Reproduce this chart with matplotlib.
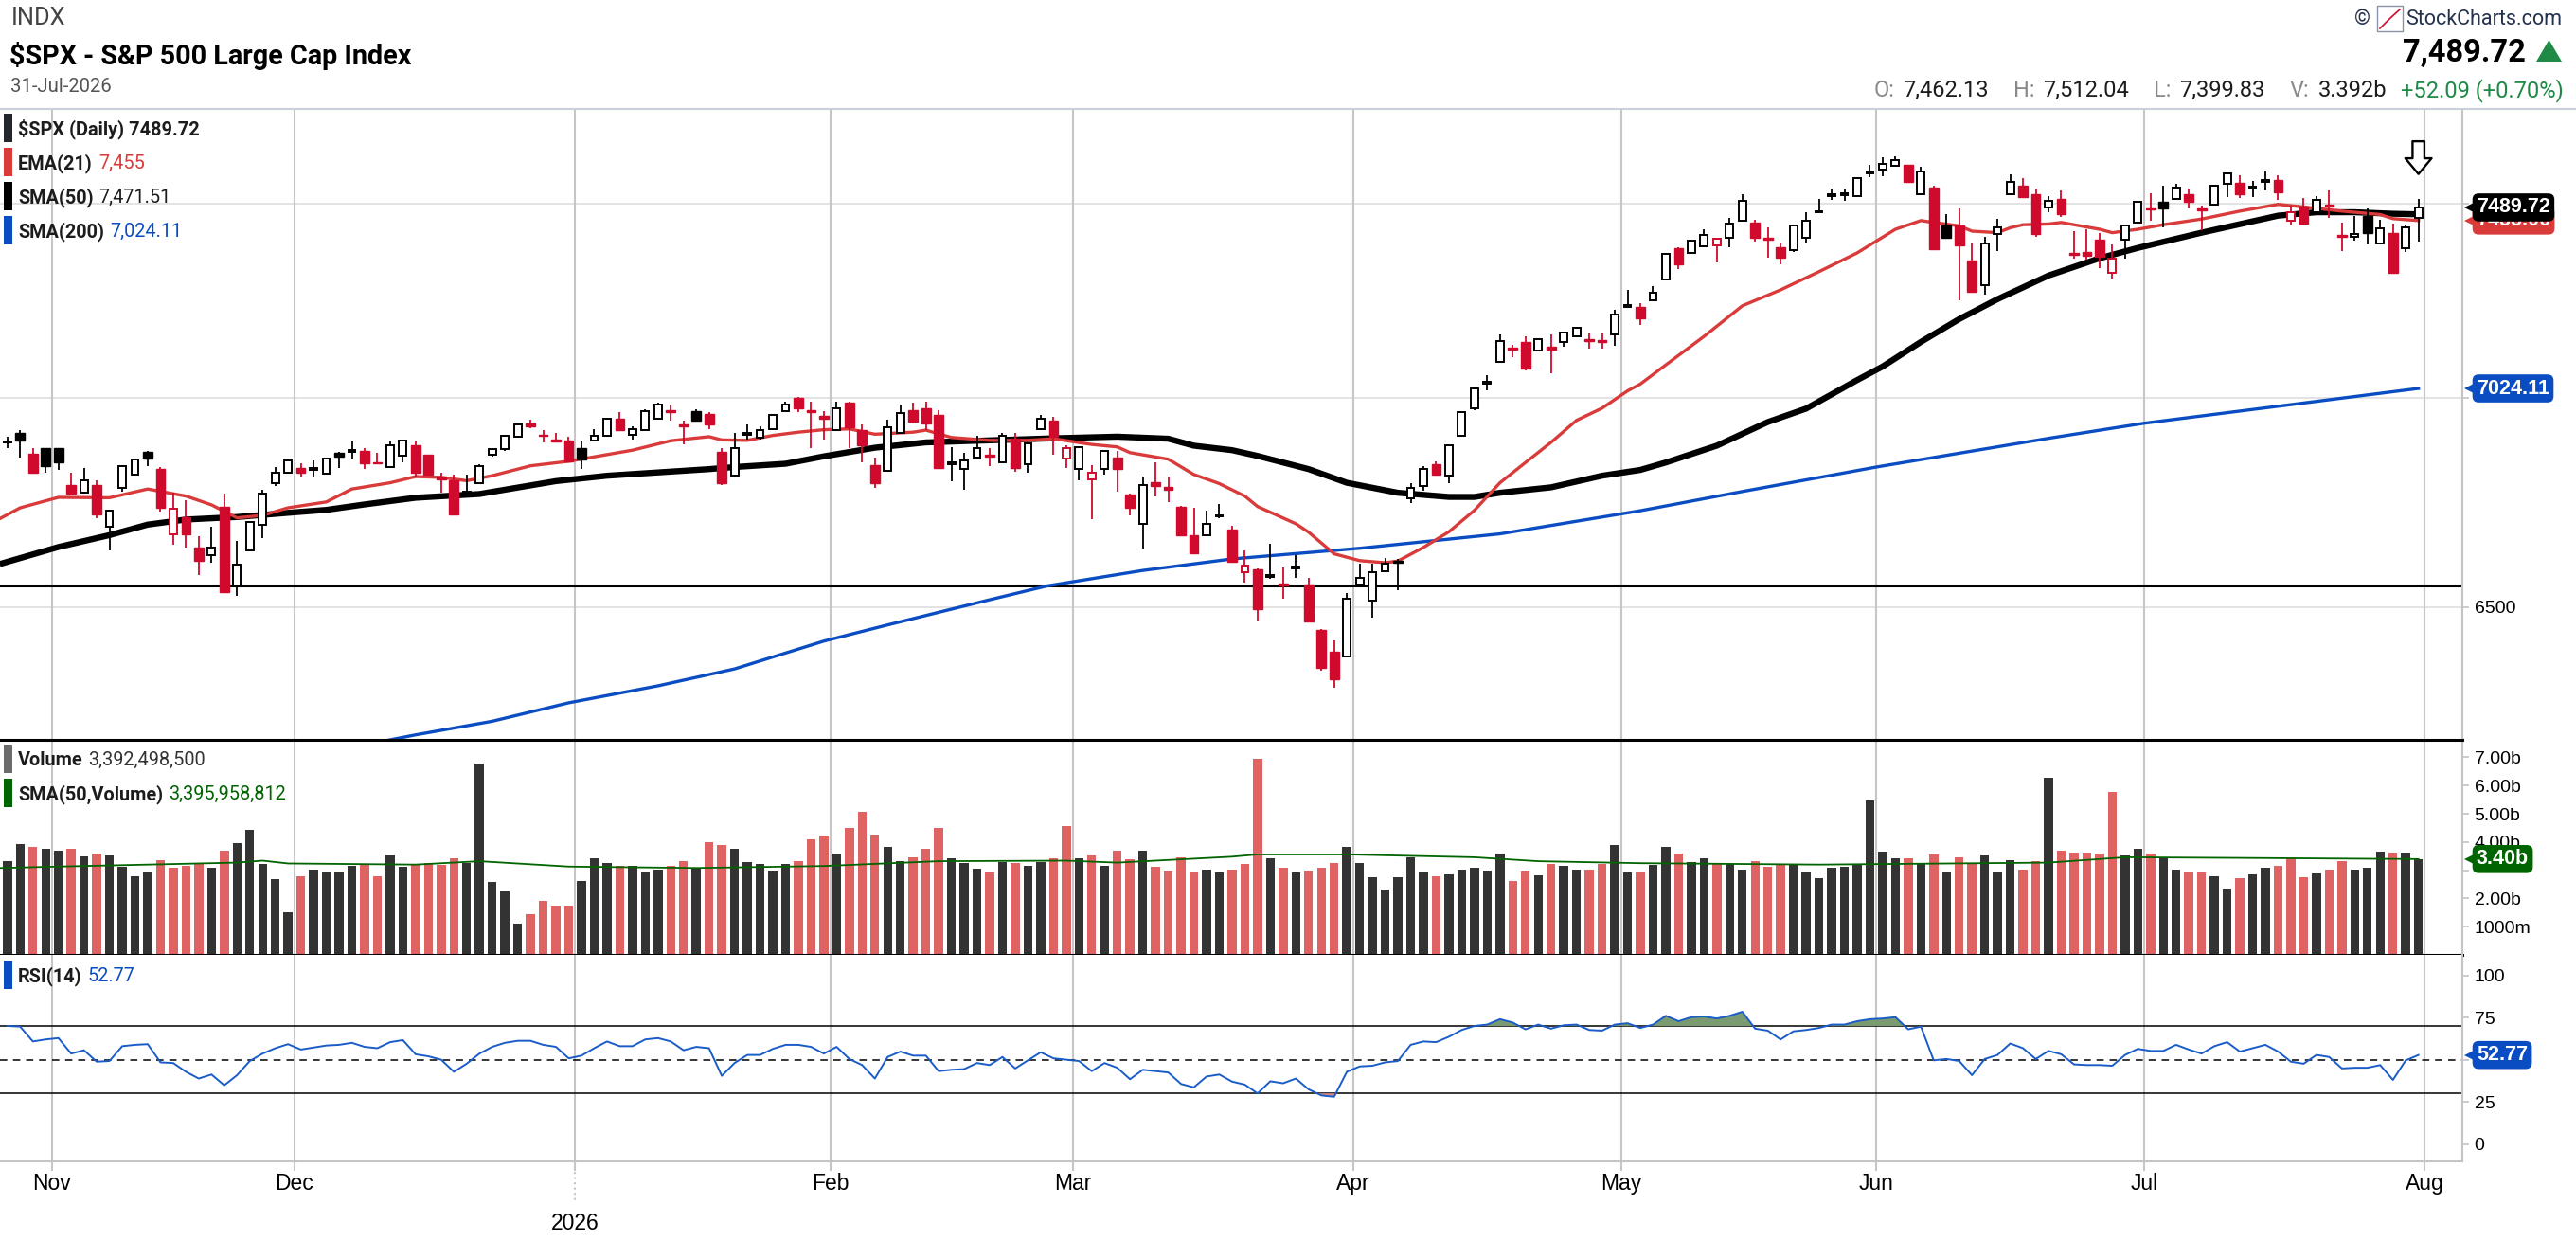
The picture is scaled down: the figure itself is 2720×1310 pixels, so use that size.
import numpy as np
import pandas as pd
import matplotlib
matplotlib.use("Agg")
import matplotlib.pyplot as plt
from matplotlib import transforms
from matplotlib.patches import Rectangle, Polygon
from matplotlib.lines import Line2D
from matplotlib.ticker import NullLocator, FixedLocator, FixedFormatter

W, H = 2720, 1310

# ---------------------------------------------------------------- data
holidays = ["2025-11-27", "2025-12-25", "2026-01-01", "2026-01-19", "2026-02-16",
            "2026-04-03", "2026-05-25", "2026-06-19", "2026-07-03"]
dates = pd.bdate_range("2025-10-28", "2026-07-31")
dates = dates[~dates.isin(pd.to_datetime(holidays))]

prev_close = 6880  # close of the session before the first bar shown

opens = [
    6890, 6913, 6863, 6876, 6876, 6788, 6769, 6788, 6687, 6780,
    6813, 6868, 6826, 6671, 6711, 6639, 6620, 6736, 6549, 6633,
    6692, 6791, 6817, 6828, 6823, 6815, 6866, 6868, 6870, 6843,
    6831, 6858, 6883, 6860, 6807, 6798, 6770, 6793, 6862, 6874,
    6905, 6938, 6910, 6897, 6896, 6878, 6896, 6907, 6948, 6910,
    6922, 6950, 6970, 6935, 6968, 6960, 6868, 6810, 6910, 6903,
    6924, 6968, 7000, 6970, 6955, 6920, 6988, 6922, 6836, 6821,
    6914, 6971, 6975, 6958, 6838, 6826, 6855, 6861, 6843, 6900,
    6838, 6923, 6945, 6852, 6826, 6801, 6826, 6855, 6765, 6695,
    6795, 6782, 6735, 6668, 6668, 6712, 6681, 6580, 6587, 6570,
    6555, 6590, 6552, 6448, 6397, 6388, 6553, 6514, 6583, 6607,
    6756, 6786, 6839, 6810, 6906, 6975, 7035, 7090, 7127, 7141,
    7120, 7128, 7141, 7155, 7149, 7146, 7160, 7230, 7230, 7246,
    7301, 7383, 7369, 7388, 7390, 7410, 7455, 7449, 7410, 7384,
    7377, 7410, 7478, 7520, 7523, 7521, 7580, 7590, 7600, 7603,
    7525, 7543, 7441, 7441, 7351, 7285, 7420, 7525, 7549, 7525,
    7489, 7513, 7370, 7373, 7405, 7317, 7405, 7450, 7488, 7504,
    7513, 7525, 7486, 7498, 7553, 7555, 7540, 7559, 7563, 7455,
    7491, 7477, 7496, 7417, 7412, 7468, 7395, 7422, 7383, 7462.13,
]
highs = [
    6905, 6921, 6878, 6878, 6878, 6817, 6828, 6798, 6728, 6836,
    6852, 6870, 6830, 6769, 6752, 6666, 6687, 6768, 6655, 6702,
    6775, 6830, 6850, 6840, 6848, 6855, 6868, 6894, 6877, 6866,
    6896, 6898, 6896, 6862, 6817, 6812, 6812, 6839, 6876, 6910,
    6937, 6947, 6922, 6913, 6905, 6894, 6924, 6951, 6966, 6930,
    6973, 6990, 6983, 6945, 6973, 6966, 6876, 6913, 6935, 6930,
    6960, 6991, 7002, 6991, 6968, 6991, 6991, 6934, 6855, 6946,
    6983, 6988, 6991, 6971, 6880, 6865, 6907, 6878, 6915, 6915,
    6890, 6958, 6953, 6883, 6882, 6835, 6873, 6871, 6767, 6809,
    6843, 6809, 6737, 6733, 6727, 6743, 6690, 6631, 6589, 6647,
    6592, 6620, 6568, 6450, 6423, 6532, 6600, 6600, 6615, 6612,
    6793, 6834, 6845, 6885, 6968, 7027, 7057, 7160, 7133, 7155,
    7150, 7160, 7167, 7180, 7163, 7163, 7222, 7275, 7241, 7284,
    7370, 7385, 7403, 7433, 7408, 7462, 7525, 7458, 7437, 7396,
    7443, 7477, 7513, 7539, 7539, 7569, 7603, 7625, 7627, 7605,
    7598, 7549, 7472, 7486, 7398, 7413, 7459, 7579, 7567, 7539,
    7521, 7535, 7426, 7432, 7423, 7392, 7443, 7506, 7527, 7549,
    7554, 7539, 7495, 7551, 7582, 7576, 7560, 7589, 7576, 7495,
    7516, 7521, 7535, 7449, 7466, 7486, 7458, 7446, 7445, 7512.04,
]
lows = [
    6878, 6854, 6815, 6817, 6825, 6762, 6766, 6708, 6631, 6772,
    6810, 6834, 6724, 6645, 6638, 6574, 6602, 6532, 6526, 6631,
    6661, 6785, 6815, 6805, 6808, 6812, 6828, 6850, 6826, 6838,
    6830, 6843, 6809, 6810, 6769, 6716, 6760, 6792, 6857, 6870,
    6903, 6926, 6891, 6892, 6842, 6826, 6895, 6905, 6918, 6897,
    6920, 6947, 6944, 6887, 6942, 6924, 6788, 6808, 6897, 6897,
    6922, 6965, 6966, 6876, 6897, 6918, 6876, 6842, 6781, 6820,
    6912, 6938, 6921, 6826, 6796, 6775, 6853, 6833, 6840, 6820,
    6817, 6921, 6862, 6829, 6800, 6707, 6813, 6772, 6715, 6636,
    6761, 6746, 6667, 6622, 6666, 6709, 6603, 6557, 6468, 6565,
    6519, 6568, 6467, 6354, 6317, 6385, 6550, 6476, 6582, 6540,
    6745, 6774, 6810, 6793, 6904, 6970, 7020, 7088, 7102, 7068,
    7118, 7063, 7128, 7153, 7124, 7124, 7131, 7228, 7184, 7244,
    7299, 7327, 7367, 7386, 7345, 7384, 7453, 7400, 7358, 7341,
    7373, 7396, 7476, 7511, 7507, 7519, 7570, 7572, 7598, 7555,
    7523, 7377, 7407, 7246, 7266, 7261, 7374, 7523, 7516, 7411,
    7477, 7464, 7355, 7353, 7331, 7303, 7355, 7448, 7455, 7437,
    7511, 7486, 7429, 7495, 7518, 7516, 7517, 7534, 7509, 7441,
    7444, 7475, 7462, 7376, 7403, 7391, 7393, 7315, 7372, 7399.83,
]
closes = [
    6893, 6896, 6817, 6834, 6843, 6766, 6798, 6717, 6726, 6834,
    6850, 6852, 6733, 6731, 6671, 6607, 6639, 6535, 6598, 6700,
    6766, 6817, 6847, 6818, 6828, 6852, 6856, 6872, 6841, 6840,
    6883, 6896, 6817, 6812, 6802, 6717, 6772, 6834, 6874, 6907,
    6934, 6930, 6906, 6893, 6845, 6850, 6907, 6948, 6920, 6923,
    6968, 6983, 6966, 6931, 6944, 6936, 6793, 6876, 6913, 6920,
    6958, 6983, 6975, 6966, 6950, 6975, 6929, 6884, 6793, 6929,
    6963, 6941, 6938, 6829, 6843, 6846, 6878, 6856, 6907, 6829,
    6888, 6950, 6904, 6876, 6880, 6817, 6871, 6826, 6733, 6788,
    6785, 6776, 6668, 6625, 6694, 6714, 6605, 6597, 6496, 6575,
    6550, 6595, 6468, 6362, 6336, 6520, 6568, 6580, 6600, 6602,
    6780, 6826, 6813, 6883, 6966, 7025, 7040, 7142, 7122, 7075,
    7148, 7122, 7165, 7178, 7144, 7141, 7210, 7235, 7201, 7267,
    7367, 7341, 7401, 7418, 7406, 7446, 7507, 7410, 7405, 7357,
    7441, 7455, 7480, 7524, 7527, 7567, 7585, 7607, 7616, 7558,
    7585, 7381, 7410, 7390, 7268, 7394, 7436, 7558, 7518, 7420,
    7507, 7473, 7365, 7362, 7360, 7355, 7441, 7504, 7484, 7486,
    7543, 7504, 7482, 7549, 7580, 7525, 7545, 7562, 7530, 7477,
    7446, 7509, 7493, 7412, 7420, 7422, 7435, 7317, 7437.63, 7489.72,
]
# volume in billions of shares
volume_b = [
    3.34, 3.94, 3.82, 3.75, 3.68, 3.75, 3.48, 3.60, 3.53, 3.13,
    2.79, 2.94, 3.37, 3.10, 3.15, 3.27, 3.10, 3.68, 3.96, 4.44,
    3.22, 2.67, 1.50, 2.79, 3.01, 2.96, 2.96, 3.15, 3.22, 2.79,
    3.51, 3.13, 3.20, 3.27, 3.20, 3.41, 3.27, 6.78, 2.58, 2.24,
    1.10, 1.46, 1.93, 1.74, 1.74, 2.63, 3.44, 3.27, 3.17, 3.15,
    2.96, 3.01, 3.17, 3.34, 3.10, 3.99, 3.89, 3.77, 3.29, 3.22,
    2.98, 3.22, 3.34, 4.10, 4.22, 3.58, 4.49, 5.08, 4.27, 3.82,
    3.34, 3.46, 3.75, 4.49, 3.41, 3.27, 3.05, 2.91, 3.29, 3.25,
    3.17, 3.29, 3.44, 4.56, 3.44, 3.51, 3.17, 3.68, 3.39, 3.68,
    3.13, 2.98, 3.46, 2.94, 3.01, 2.91, 3.01, 3.22, 6.95, 3.44,
    3.08, 2.91, 2.98, 3.10, 3.27, 3.82, 3.27, 2.74, 2.32, 2.74,
    3.46, 2.96, 2.79, 2.86, 3.03, 3.08, 2.98, 3.60, 2.63, 2.98,
    2.82, 3.22, 3.17, 3.01, 3.03, 3.22, 3.91, 2.91, 2.94, 3.20,
    3.84, 3.58, 3.29, 3.41, 3.22, 3.22, 3.01, 3.34, 3.13, 3.22,
    3.20, 2.94, 2.72, 3.08, 3.13, 3.22, 5.47, 3.65, 3.41, 3.41,
    3.22, 3.56, 2.96, 3.46, 3.27, 3.53, 2.96, 3.37, 3.03, 3.34,
    6.28, 3.68, 3.63, 3.63, 3.58, 5.78, 3.51, 3.75, 3.58, 3.41,
    3.01, 2.96, 2.91, 2.79, 2.34, 2.72, 2.84, 3.08, 3.17, 3.41,
    2.74, 2.89, 3.01, 3.34, 3.01, 3.10, 3.65, 3.63, 3.63, 3.392,
]
rsi14 = [
    70.0, 69.6, 60.8, 62.0, 62.8, 53.6, 55.6, 48.8, 49.2, 58.0,
    58.8, 59.2, 48.4, 48.0, 42.8, 38.8, 41.2, 34.8, 40.8, 49.2,
    53.6, 56.8, 59.2, 56.0, 57.2, 58.4, 58.8, 60.0, 57.6, 56.8,
    60.4, 61.6, 53.2, 52.0, 50.0, 42.8, 47.6, 53.6, 57.6, 60.0,
    61.2, 61.2, 58.8, 57.6, 50.8, 52.4, 56.8, 60.8, 58.0, 58.0,
    62.0, 62.8, 60.8, 55.6, 57.6, 56.8, 40.4, 48.0, 52.8, 52.8,
    56.4, 58.8, 58.8, 57.6, 53.6, 57.6, 50.4, 46.8, 38.8, 51.6,
    54.8, 52.4, 52.4, 43.2, 44.0, 44.4, 48.0, 46.8, 51.6, 44.8,
    49.6, 54.4, 50.8, 50.0, 49.2, 43.2, 48.0, 45.2, 38.4, 44.0,
    43.2, 42.4, 35.6, 33.6, 40.0, 41.2, 37.0, 35.2, 30.0, 37.2,
    36.0, 38.8, 32.4, 28.8, 28.0, 42.8, 46.0, 46.4, 48.4, 49.2,
    58.8, 60.8, 60.4, 63.6, 67.6, 70.0, 70.8, 74.0, 72.0, 68.0,
    70.8, 68.4, 70.4, 70.8, 67.6, 67.2, 70.8, 71.6, 68.8, 70.8,
    76.0, 72.8, 75.2, 75.6, 74.4, 76.0, 78.4, 68.4, 67.2, 62.0,
    66.8, 67.6, 68.8, 70.8, 70.8, 72.8, 74.0, 74.4, 75.2, 68.0,
    69.6, 49.6, 50.4, 49.2, 40.8, 50.4, 52.8, 59.6, 56.8, 50.4,
    55.2, 53.2, 47.2, 46.8, 46.8, 46.4, 52.8, 56.4, 55.2, 55.2,
    58.8, 56.0, 53.6, 58.0, 60.4, 54.8, 56.8, 58.8, 54.8, 48.8,
    47.6, 52.8, 51.6, 44.8, 45.2, 45.2, 46.8, 38.0, 49.6, 52.77,
]

# overlays at sample bars (bar 0 = 3 Nov 2025)
ema21_bar = [-4.6, -3, 0, 4, 7, 10, 12, 14, 16, 18, 21, 23, 26, 28, 30, 32, 34, 37, 40, 45,
             48, 51, 52, 54, 56, 58, 60, 62, 64, 67, 68, 70, 73, 76, 78, 81, 83, 84, 87, 89,
             91, 93, 94, 97, 98, 100, 102, 104, 105, 107, 109, 111, 113, 115, 117, 119, 121,
             123, 124, 126, 129, 132, 135, 138, 141, 144, 146, 147, 149, 150, 152, 153, 154,
             156, 157, 160, 161, 163, 165, 168, 171, 174, 176, 179, 182, 183, 185]
ema21_val = [6707, 6733, 6758, 6757, 6778, 6761, 6740, 6709, 6715, 6733, 6747, 6778, 6793, 6808,
             6806, 6798, 6810, 6834, 6845, 6872, 6895, 6905, 6897, 6896, 6908, 6916, 6922, 6924,
             6911, 6916, 6921, 6903, 6896, 6896, 6900, 6886, 6880, 6866, 6850, 6813, 6791, 6761,
             6736, 6695, 6675, 6624, 6608, 6603, 6607, 6639, 6676, 6727, 6793, 6842, 6891, 6945,
             6975, 7018, 7035, 7083, 7155, 7233, 7274, 7321, 7370, 7432, 7455, 7450, 7441, 7427,
             7423, 7436, 7444, 7446, 7450, 7432, 7423, 7432, 7444, 7459, 7480, 7498, 7491, 7480,
             7471, 7460, 7455]
sma50_bar = [-4.6, 0, 4, 7, 10, 14, 18, 21, 24, 28, 33, 39, 43, 51, 53, 57, 60, 64, 68, 73,
             78, 83, 87, 89, 92, 94, 98, 101, 105, 109, 111, 113, 117, 121, 124, 126, 130, 134,
             137, 141, 143, 146, 149, 152, 156, 160, 163, 168, 174, 177, 180, 183, 185]
sma50_val = [6600, 6640, 6668, 6693, 6705, 6711, 6721, 6728, 6741, 6757, 6766, 6797, 6810, 6826,
             6831, 6839, 6857, 6878, 6891, 6896, 6901, 6905, 6900, 6883, 6872, 6858, 6826, 6793,
             6769, 6759, 6759, 6769, 6782, 6810, 6824, 6842, 6883, 6941, 6974, 7045, 7079, 7141,
             7199, 7250, 7311, 7356, 7383, 7423, 7468, 7477, 7477, 7473, 7471.51]
sma200_bar = [24, 28, 34, 40, 47, 53, 60, 65, 73, 77.5, 85, 92, 102, 113, 124, 132, 142.5, 156,
              163.5, 185]
sma200_val = [6190, 6212, 6242, 6283, 6321, 6359, 6422, 6459, 6517, 6549, 6585, 6612, 6637, 6671,
              6726, 6772, 6831, 6901, 6938, 7024.11]
vol_sma_bar = [-4.6, 0, 7, 14, 16, 18, 28, 33, 40, 50, 60, 69, 79, 83, 92, 94, 101, 111, 116,
               124, 138, 156, 162, 170, 185]
vol_sma_val = [3.08, 3.13, 3.20, 3.27, 3.34, 3.24, 3.20, 3.32, 3.13, 3.08, 3.15, 3.32, 3.34,
               3.27, 3.48, 3.56, 3.56, 3.46, 3.32, 3.25, 3.20, 3.27, 3.46, 3.44, 3.396]

support_level = 6550

# ---------------------------------------------------------------- colours
CANDLE_RED = "#cf0a2c"
VOL_RED = "#e06363"
VOL_BLACK = "#333333"
EMA_RED = "#d93a3a"
SMA200_BLUE = "#0a4cc2"
VOL_GREEN = "#006400"
RSI_BLUE = "#1a5cc8"
MONTH_GRID = "#c6c6c6"
TEXT = "#1c1c1c"

plt.rcParams["font.family"] = ["Liberation Sans", "DejaVu Sans"]

o = np.array(opens, float)
h = np.array(highs, float)
l = np.array(lows, float)
c = np.array(closes, float)
vol = np.array(volume_b, float)
rsi = np.array(rsi14, float)
bars = np.arange(len(dates)) - 4  # bar numbers counted from 3 Nov 2025

prev = np.r_[prev_close, c[:-1]]
up_day = c >= prev
hollow = c > o
candle_col = np.where(up_day, "black", CANDLE_RED)

# month boundaries: gridline sits between last bar of a month and first of the next
first_of_month = np.flatnonzero(np.r_[True, dates.month[1:] != dates.month[:-1]])[1:]
bounds = list(bars[first_of_month] - 0.5) + [bars[-1] + 0.5]
month_names = [d.strftime("%b") for d in dates[first_of_month]]
month_names.append((dates[-1] + pd.offsets.MonthBegin(1)).strftime("%b"))
year_idx = month_names.index("Jan")
year_label = str(dates[first_of_month[year_idx]].year)
month_names[year_idx] = ""

fig = plt.figure(figsize=(W / 100, H / 100), dpi=100)
renderer = fig.canvas.get_renderer()


def rect(x0, y0, x1, y1):
    return [x0 / W, 1 - y1 / H, (x1 - x0) / W, (y1 - y0) / H]


ax_p = fig.add_axes(rect(0, 115, 2600, 781))
ax_v = fig.add_axes(rect(0, 781, 2600, 1008), sharex=ax_p)
ax_r = fig.add_axes(rect(0, 1008, 2600, 1226), sharex=ax_p)

for ax in (ax_p, ax_v, ax_r):
    for side in ("top", "left", "bottom"):
        ax.spines[side].set_visible(False)
    ax.spines["right"].set_color("#c4c4c4")
    ax.spines["right"].set_linewidth(1.5)
    ax.yaxis.tick_right()
    ax.tick_params(axis="y", length=5, width=1.2, color="#c4c4c4", labelsize=14, pad=4)
    ax.tick_params(axis="x", bottom=False, labelbottom=False)
    for b in bounds:
        ax.axvline(b, color=MONTH_GRID, lw=1.5, zorder=0.5)

for side in ("top", "bottom"):
    ax_v.spines[side].set_visible(True)
    ax_v.spines[side].set_color("black")
    ax_v.spines[side].set_linewidth(2.2)
ax_r.spines["bottom"].set_visible(True)
ax_r.spines["bottom"].set_color("#c4c4c4")
ax_r.spines["bottom"].set_linewidth(1.5)

# ---------------------------------------------------------------- price panel
ax_p.set_yscale("log")
for lvl in (6500, 7000, 7500):
    ax_p.axhline(lvl, color="#dedede", lw=1.2, zorder=0.4)
ax_p.axhline(support_level, color="black", lw=2.2, zorder=1)

ax_p.plot(sma200_bar, sma200_val, color=SMA200_BLUE, lw=2.4, zorder=2)
ax_p.plot(sma50_bar, sma50_val, color="black", lw=4.6, zorder=2, solid_capstyle="butt")
ax_p.plot(ema21_bar, ema21_val, color=EMA_RED, lw=2.4, zorder=2.1)

ax_p.vlines(bars, l, h, colors=candle_col, lw=1.3, zorder=3)
lo_body = np.minimum(o, c)
hi_body = np.maximum(o, c)
filled = ~hollow
ax_p.bar(bars[filled], (hi_body - lo_body)[filled], bottom=lo_body[filled], width=0.72,
         color=candle_col[filled], edgecolor=candle_col[filled], lw=1.0, zorder=4)
ax_p.bar(bars[hollow], (hi_body - lo_body)[hollow], bottom=lo_body[hollow], width=0.58,
         facecolor="white", edgecolor=candle_col[hollow], lw=1.4, zorder=4)

# marker arrow over the latest bar
ax_p.annotate("", xy=(bars[-1], h[-1]), xytext=(0, 61), textcoords="offset pixels",
              arrowprops=dict(arrowstyle="simple,head_length=0.6,head_width=1.0,tail_width=0.45",
                              fc="white", ec="black", lw=1.7, shrinkA=0, shrinkB=19,
                              mutation_scale=20), annotation_clip=False, zorder=6)

# 7000 / 7500 sit under the value tags, as on the original
ax_p.yaxis.set_major_locator(FixedLocator([6500, 7000, 7500]))
ax_p.yaxis.set_major_formatter(FixedFormatter(["6500", "", ""]))
ax_p.yaxis.set_minor_locator(NullLocator())

# ---------------------------------------------------------------- volume panel
ax_v.bar(bars, vol, width=0.7, color=np.where(up_day, VOL_BLACK, VOL_RED), zorder=2)
ax_v.plot(vol_sma_bar, vol_sma_val, color=VOL_GREEN, lw=1.3, zorder=3)
ax_v.set_yticks([1, 2, 3, 4, 5, 6, 7])
ax_v.set_yticklabels(["1000m", "2.00b", "", "4.00b", "5.00b", "6.00b", "7.00b"])

# ---------------------------------------------------------------- RSI panel
ax_r.fill_between(bars, rsi, 70, where=rsi >= 70, interpolate=True, color="#7a9a72", lw=0, zorder=2)
ax_r.fill_between(bars, rsi, 30, where=rsi <= 30, interpolate=True, color="#d98a8a", lw=0, zorder=2)
ax_r.plot(bars, rsi, color=RSI_BLUE, lw=1.4, zorder=3)
ax_r.axhline(70, color="black", lw=1.1, zorder=1)
ax_r.axhline(30, color="black", lw=1.1, zorder=1)
ax_r.axhline(50, color="black", lw=1.1, ls=(0, (5, 4)), zorder=1)
ax_r.set_yticks([0, 25, 50, 75, 100])
ax_r.set_yticklabels(["0", "25", "", "75", "100"])

ax_r.set_xticks(bounds)
ax_r.set_xticklabels(month_names)
ax_r.tick_params(axis="x", bottom=True, labelbottom=True, length=7, width=1.5,
                 color=MONTH_GRID, labelsize=16.5, pad=1.5)
jan_x = bounds[year_idx]
under = transforms.blended_transform_factory(ax_r.transData, ax_r.transAxes)
ax_r.plot([jan_x, jan_x], [0, -0.19], transform=under, color=MONTH_GRID, lw=1.5, ls=":",
          clip_on=False)
ax_r.annotate(year_label, xy=(jan_x, 0), xycoords=under, xytext=(0, -65),
              textcoords="offset pixels", ha="center", va="center", fontsize=16.5,
              annotation_clip=False)

ax_p.set_xlim(-4.58, 188.44)
ax_p.set_ylim(6201, 7756)
ax_v.set_ylim(0, 7.62)
ax_r.set_ylim(-10.3, 112.1)


# ---------------------------------------------------------------- value tags
def tag(ax, y, label, color):
    tr = transforms.blended_transform_factory(ax.transAxes, ax.transData)
    nudge = transforms.ScaledTranslation(8 / 100, 0, fig.dpi_scale_trans)
    ax.plot([1], [y], marker="<", ms=9, color=color, mew=0, transform=tr + nudge,
            clip_on=False, zorder=8)
    ax.annotate(label, xy=(1, y), xycoords=tr, xytext=(15, 0), textcoords="offset pixels",
                ha="left", va="center", color="white", fontsize=15.5, fontweight="bold",
                bbox=dict(boxstyle="round,pad=0.2,rounding_size=0.3", fc=color, ec="none"),
                annotation_clip=False, zorder=9)


tag(ax_p, ema21_val[-1], "7455.00", EMA_RED)
tag(ax_p, c[-1], f"{c[-1]:.2f}", "black")
tag(ax_p, sma200_val[-1], f"{sma200_val[-1]:.2f}", SMA200_BLUE)
tag(ax_v, vol_sma_val[-1], "3.40b", VOL_GREEN)
tag(ax_r, rsi[-1], f"{rsi[-1]:.2f}", SMA200_BLUE)


# ---------------------------------------------------------------- header & legends
def put(x, y, s, size, color=TEXT, weight="normal", ha="left", family="Roboto"):
    return fig.text(x / W, 1 - y / H, s, fontsize=size, color=color, fontweight=weight,
                    ha=ha, va="baseline", family=family)


def width_px(t):
    return t.get_window_extent(renderer).width


def run(x, y, pieces, size):
    for s, color, weight, gap in pieces:
        t = put(x, y, s, size, color, weight)
        x += width_px(t) + gap


def run_right(x_right, y, pieces, size):
    texts = [put(0, y, s, size, col, wt) for s, col, wt, g in pieces]
    widths = [width_px(t) for t in texts]
    x = x_right - sum(widths) - sum(p[3] for p in pieces[:-1])
    for t, wd, p in zip(texts, widths, pieces):
        t.set_x(x / W)
        x += wd + p[3]


def swatch(yc, color, hgt=30):
    fig.add_artist(Rectangle((4 / W, 1 - (yc + hgt / 2) / H), 9 / W, hgt / H,
                             transform=fig.transFigure, color=color, lw=0))


put(12, 26, "INDX", 18.3, color="#444444")
put(10, 68, "$SPX - S&P 500 Large Cap Index", 20.7, color="black", weight="bold")
put(11, 97, "31-Jul-2026", 14.6, color="#555555")

put(2486, 26, "©", 15.5, color="#25324d")
fig.add_artist(Rectangle((2510 / W, 1 - 33 / H), 27 / W, 27 / H, transform=fig.transFigure,
                         fc="white", ec="#8b95a8", lw=1))
fig.add_artist(Line2D([2513 / W, 2524 / W, 2534 / W], [1 - 30 / H, 1 - 19 / H, 1 - 10 / H],
                      transform=fig.transFigure, color=CANDLE_RED, lw=1.2))
put(2540, 26, "StockCharts.com", 15.5, color="#25324d")

put(2667, 65, "7,489.72", 23.5, color="black", weight="bold", ha="right")
fig.add_artist(Polygon([(2678 / W, 1 - 65 / H), (2705 / W, 1 - 65 / H), (2691.5 / W, 1 - 42 / H)],
                       closed=True, transform=fig.transFigure, color="#1e8a46", lw=0))

LBL = "#8a8a8a"
GREEN = "#1e8a46"
run_right(2707, 102, [("O:", LBL, "normal", 9), ("7,462.13", TEXT, "normal", 26),
                      ("H:", LBL, "normal", 9), ("7,512.04", TEXT, "normal", 26),
                      ("L:", LBL, "normal", 9), ("7,399.83", TEXT, "normal", 26),
                      ("V:", LBL, "normal", 9), ("3.392b", TEXT, "normal", 15),
                      ("+52.09 (+0.70%)", GREEN, "normal", 0)], 17)

fig.add_artist(Line2D([0, 1], [1 - 115 / H] * 2, transform=fig.transFigure,
                      color="#c9d0da", lw=1.5))

legend_rows = [
    (135, "#23262b", [("$SPX (Daily) 7489.72", TEXT, "bold", 0)]),
    (171, EMA_RED, [("EMA(21)", TEXT, "bold", 6), ("7,455", EMA_RED, "normal", 0)]),
    (207, "black", [("SMA(50)", TEXT, "bold", 6), ("7,471.51", TEXT, "normal", 0)]),
    (243, SMA200_BLUE, [("SMA(200)", TEXT, "bold", 6), ("7,024.11", SMA200_BLUE, "normal", 0)]),
    (801, "#6b6b6b", [("Volume", TEXT, "bold", 6), ("3,392,498,500", "#333333", "normal", 0)]),
    (837, VOL_GREEN, [("SMA(50,Volume)", TEXT, "bold", 6), ("3,395,958,812", VOL_GREEN, "normal", 0)]),
    (1029, SMA200_BLUE, [("RSI(14)", TEXT, "bold", 6), ("52.77", SMA200_BLUE, "normal", 0)]),
]
for yc, col, pieces in legend_rows:
    swatch(yc, col)
    run(19, yc + 7, pieces, 14.3)

fig.savefig("out.png", dpi=100)
